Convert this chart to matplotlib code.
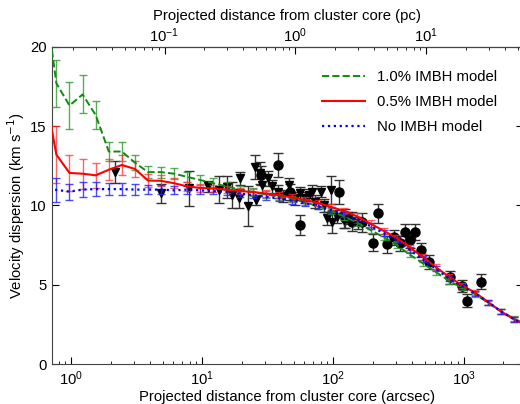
import numpy as np
import matplotlib
matplotlib.use('Agg')
import matplotlib.pyplot as plt

plt.rcParams['font.family'] = ['Liberation Sans', 'DejaVu Sans']
plt.rcParams['font.size'] = 10.7

# model radii (arcsec) and velocity dispersions (km/s)
model_r = [0.610, 0.767, 0.966, 1.216, 1.531, 1.928, 2.427, 3.055, 3.846, 4.842,
           6.095, 7.674, 9.66, 12.16, 15.31, 19.28, 24.27, 30.55, 38.46, 48.42,
           60.95, 76.74, 96.6, 121.6, 153.1, 192.8, 242.7, 305.5, 384.6, 484.2,
           609.5, 767.4, 966, 1216, 1531, 1928, 2427, 3055]
green = [23.8, 17.7, 16.3, 17.0, 15.7, 13.4, 13.4, 12.7, 12.1, 12.1,
         12.0, 11.8, 11.6, 11.4, 11.2, 11.0, 10.85, 10.7, 10.55, 10.4,
         10.2, 9.95, 9.65, 9.3, 8.9, 8.45, 8.0, 7.5, 6.9, 6.35,
         5.8, 5.25, 4.8, 4.4, 3.85, 3.3, 2.85, 2.45]
green_err = [2.0, 1.5, 1.5, 1.2, 0.9, 0.6, 0.6, 0.45, 0.4, 0.35,
             0.35, 0.3, 0.3, 0.3, 0.25, 0.25, 0.25, 0.2, 0.2, 0.2,
             0.2, 0.2, 0.2, 0.2, 0.2, 0.2, 0.2, 0.2, 0.18, 0.18,
             0.18, 0.18, 0.15, 0.15, 0.15, 0.15, 0.15, 0.15]
red = [17.7, 13.2, 12.05, 12.0, 11.9, 12.25, 12.55, 12.3, 11.57, 11.55,
       11.4, 11.2, 11.1, 11.07, 11.0, 10.9, 10.85, 10.75, 10.65, 10.5,
       10.35, 10.15, 9.9, 9.65, 9.3, 8.85, 8.4, 7.95, 7.35, 6.75,
       6.1, 5.5, 4.95, 4.5, 3.9, 3.3, 2.8, 2.4]
red_err = [2.0, 1.8, 1.15, 0.95, 0.8, 0.65, 0.6, 0.5, 0.4, 0.35,
           0.3, 0.28, 0.25, 0.25, 0.22, 0.2, 0.2, 0.2, 0.2, 0.2,
           0.2, 0.2, 0.2, 0.2, 0.2, 0.2, 0.2, 0.18, 0.18, 0.18,
           0.18, 0.15, 0.15, 0.15, 0.15, 0.15, 0.15, 0.15]
blue = [10.9, 10.98, 10.87, 11.0, 11.03, 11.03, 11.03, 11.0, 11.0, 11.0,
        10.95, 11.0, 10.95, 10.9, 10.85, 10.75, 10.65, 10.55, 10.45, 10.3,
        10.15, 9.95, 9.7, 9.45, 9.1, 8.7, 8.25, 7.8, 7.2, 6.6,
        6.0, 5.4, 4.9, 4.45, 3.9, 3.3, 2.8, 2.4]
blue_err = [0.8, 0.75, 0.5, 0.45, 0.45, 0.4, 0.4, 0.35, 0.3, 0.3,
            0.25, 0.25, 0.22, 0.2, 0.2, 0.2, 0.2, 0.2, 0.2, 0.2,
            0.2, 0.2, 0.2, 0.2, 0.2, 0.2, 0.18, 0.18, 0.18, 0.18,
            0.15, 0.15, 0.15, 0.15, 0.15, 0.15, 0.15, 0.15]

# observations: triangles (inner) and circles (outer)
tri_r = [2.14, 4.8, 7.95, 11.0, 13.5, 15.4, 16.8, 19.5, 19.2, 22.5,
         25.8, 25.4, 27.7, 28.6, 31.5, 34, 37.7, 41, 45.7, 51.5,
         56, 61, 65, 69, 73, 80, 85, 90, 95.5, 98,
         107, 120, 130, 155]
tri_v = [12.1, 10.77, 11.08, 11.2, 10.98, 11.14, 10.66, 11.7, 10.45, 9.97,
         10.35, 12.4, 12.03, 11.3, 11.7, 11.2, 10.87, 10.6, 11.3, 10.45,
         10.76, 10.5, 10.66, 10.87, 10.24, 10.87, 10.0, 9.19, 10.98, 8.98,
         9.3, 9.08, 9.2, 8.9]
tri_err = [0.7, 0.6, 1.1, 0.35, 0.85, 0.7, 0.8, 0.4, 0.6, 1.25,
           0.3, 0.75, 0.7, 0.5, 0.5, 0.4, 0.4, 0.4, 0.4, 0.4,
           0.4, 0.35, 0.35, 0.4, 0.4, 0.35, 0.4, 0.4, 0.9, 0.7,
           0.4, 0.5, 0.4, 0.4]
circ_r = [28.2, 37.7, 47, 56, 110, 124, 140, 167, 218, 200,
          257, 290, 325, 355, 386, 424, 468, 543, 775, 962,
          1056, 1336]
circ_v = [11.9, 12.56, 10.87, 8.77, 10.87, 9.19, 8.98, 8.93, 9.5, 7.65,
          7.55, 7.98, 7.6, 8.35, 7.8, 8.35, 7.19, 6.45, 5.47, 4.92,
          3.99, 5.2]
circ_err = [0.6, 0.75, 0.5, 0.65, 0.75, 0.6, 0.6, 0.6, 0.6, 0.55,
            0.55, 0.5, 0.5, 0.5, 0.5, 0.5, 0.45, 0.45, 0.4, 0.4,
            0.4, 0.45]

pc_ticks = [0.1, 1, 10]
arcsec_per_pc = 51.4

fig = plt.figure(figsize=(5.2, 4.04), dpi=100)
ax = fig.add_axes([0.1, 0.099, 0.905, 0.785])

ax.errorbar(tri_r, tri_v, yerr=tri_err, fmt='v', color='black', ms=6,
            ecolor='#333333', elinewidth=1, capsize=3.5, zorder=3)
ax.errorbar(circ_r, circ_v, yerr=circ_err, fmt='o', color='black', ms=6.5,
            ecolor='#333333', elinewidth=1, capsize=3.5, zorder=3)

ax.errorbar(model_r, green, yerr=green_err, fmt='none', ecolor='#2e9a2e',
            alpha=0.8, elinewidth=1, capsize=3, zorder=4)
ax.plot(model_r, green, '--', color='#108a10', lw=1.4, zorder=5,
        label='1.0% IMBH model')
ax.errorbar(model_r, red, yerr=red_err, fmt='none', ecolor='#ff3030',
            alpha=0.75, elinewidth=1, capsize=3, zorder=4)
ax.plot(model_r, red, '-', color='#ff0000', lw=1.5, zorder=5,
        label='0.5% IMBH model')
ax.errorbar(model_r, blue, yerr=blue_err, fmt='none', ecolor='#2020ff',
            alpha=0.8, elinewidth=1, capsize=3, zorder=4)
ax.plot(model_r, blue, ':', color='#0000ff', lw=1.6, zorder=5,
        label='No IMBH model')

ax.set_xscale('log')
ax.set_xlim(0.71, 2800)
ax.set_ylim(0, 20)
ax.set_yticks([0, 5, 10, 15, 20])
ax.tick_params(which='both', direction='in', right=True, top=False)
ax.tick_params(which='major', length=5, pad=4)
ax.tick_params(which='minor', length=2.5)
ax.set_xlabel('Projected distance from cluster core (arcsec)', labelpad=1)
ax.set_ylabel('Velocity dispersion (km s$^{-1}$)', labelpad=2)

top = ax.secondary_xaxis('top', functions=(lambda x: x / arcsec_per_pc,
                                           lambda x: x * arcsec_per_pc))
top.set_xticks(pc_ticks)
top.set_xticklabels([r'$\mathdefault{10^{-1}}$', r'$\mathdefault{10^{0}}$',
                     r'$\mathdefault{10^{1}}$'])
top.xaxis.set_minor_locator(matplotlib.ticker.LogLocator(subs=np.arange(2, 10)))
top.xaxis.set_minor_formatter(matplotlib.ticker.NullFormatter())
top.tick_params(which='both', direction='in')
top.tick_params(which='major', length=5, pad=1)
top.tick_params(which='minor', length=2.5)
top.set_xlabel('Projected distance from cluster core (pc)', labelpad=5)

for s in ax.spines.values():
    s.set_color('#444444')

ax.legend(loc='upper right', frameon=False, handlelength=2.9,
          bbox_to_anchor=(0.975, 0.97), labelspacing=0.75, fontsize=10.7)

fig.savefig('out.png', dpi=100)
